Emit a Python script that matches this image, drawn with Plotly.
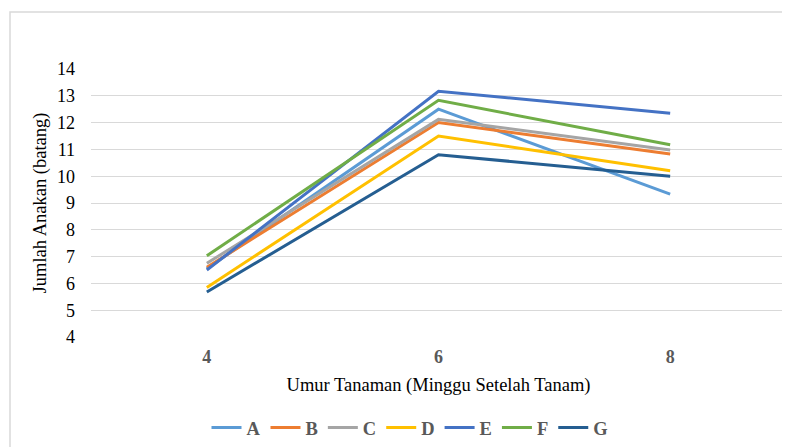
import plotly.graph_objects as go

weeks = ["4", "6", "8"]
series_names = ["A", "B", "C", "D", "E", "F", "G"]
A = [6.55, 12.5, 9.33]
B = [6.6, 12.0, 10.83]
C = [6.75, 12.12, 10.98]
D = [5.85, 11.5, 10.2]
E = [6.5, 13.17, 12.35]
F = [7.03, 12.83, 11.17]
G = [5.68, 10.8, 10.0]
values = [A, B, C, D, E, F, G]
colors = ["#5B9BD5", "#ED7D31", "#A5A5A5", "#FFC000", "#4472C4", "#70AD47", "#255E91"]

SERIF = "Liberation Serif, Times New Roman, serif"

fig = go.Figure()
for name, vals, col in zip(series_names, values, colors):
    fig.add_trace(go.Scatter(
        x=weeks, y=vals, name=name, mode="lines",
        line=dict(color=col, width=3),
    ))

OFF = 8  # page body margin
W, H = 782, 439
L, R, T, B_ = 83, 4, 61, 110
pw, ph = W - L - R, H - T - B_

def px_x(p):
    return (p - OFF - L) / pw

def px_y(p):
    return (H - B_ - (p - OFF)) / ph

def cont_y(p):
    return 1 - (p - OFF) / H

fig.add_shape(type="rect", xref="paper", yref="paper",
              x0=px_x(10), x1=px_x(830), y0=px_y(480), y1=px_y(12),
              line=dict(color="#D9D9D9", width=1.5), fillcolor="rgba(0,0,0,0)",
              layer="below")

fig.update_layout(
    width=W, height=H,
    margin=dict(l=L, r=R, t=T, b=B_, autoexpand=False),
    plot_bgcolor="white", paper_bgcolor="white",
    font=dict(family=SERIF, color="#000000"),
    showlegend=True,
    legend=dict(orientation="h", x=px_x(410), xanchor="center",
                yref="container", y=cont_y(428), yanchor="middle",
                font=dict(family=SERIF, size=18.5, color="#595959", weight="bold"),
                itemwidth=30, tracegroupgap=0),
    xaxis=dict(
        type="category",
        range=[-0.5, 2.5],
        showgrid=False, zeroline=False, showline=False,
        ticks="", ticklabelstandoff=7,
        tickfont=dict(family=SERIF, size=18, color="#595959", weight="bold"),
        title=dict(text="Umur Tanaman (Minggu Setelah Tanam)",
                   font=dict(family=SERIF, size=18.5, color="#000000"), standoff=12),
    ),
    yaxis=dict(
        range=[4, 14], dtick=1, tick0=4,
        showgrid=True, gridcolor="#D9D9D9", gridwidth=1,
        zeroline=False, showline=False,
        ticks="", ticklabelstandoff=15,
        tickfont=dict(family=SERIF, size=18, color="#000000"),
        title=dict(text="Jumlah Anakan (batang)",
                   font=dict(family=SERIF, size=18.5, color="#000000"), standoff=5),
    ),
)

fig.write_html("out.html")
